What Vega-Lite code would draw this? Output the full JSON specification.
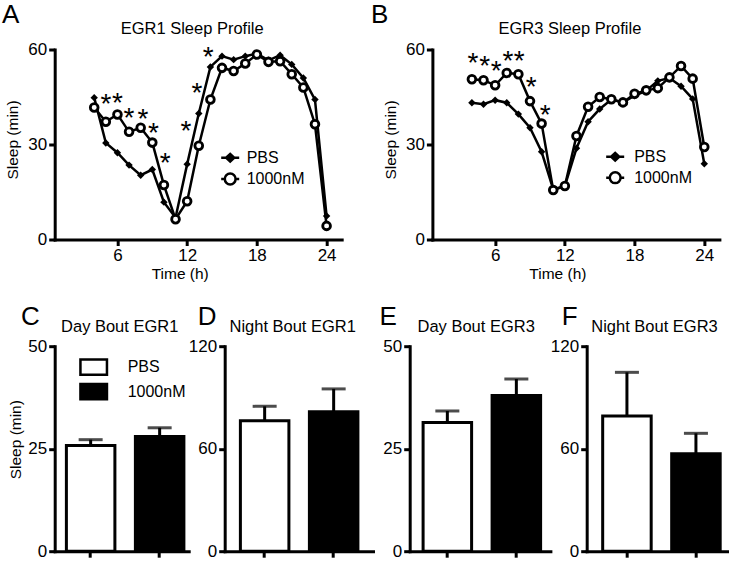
{
  "$schema": "https://vega.github.io/schema/vega-lite/v6.json",
  "background": "white",
  "padding": {"left": 1.7, "top": 1.5, "right": 0, "bottom": 0},
  "config": {
    "font": "Liberation Sans",
    "view": {"stroke": null},
    "axis": {"domainColor": "black", "domainWidth": 3, "domainCap": "square", "tickColor": "black", "tickWidth": 3, "tickSize": 6, "labelColor": "black", "labelFontSize": 17, "labelFont": "Liberation Sans", "titleColor": "black", "titleFontSize": 15.5, "titleFontWeight": "normal", "titleFont": "Liberation Sans", "grid": false},
    "title": {"fontSize": 26, "fontWeight": "normal", "color": "black", "anchor": "start", "frame": "bounds", "font": "Liberation Sans", "baseline": "alphabetic"},
    "legend": {"labelFontSize": 16, "labelColor": "black", "labelFont": "Liberation Sans"}
  },
  "datasets": {
    "profile": [
      {"panel":"A","series":"PBS","hour":4,"sleep":44.8},{"panel":"A","series":"PBS","hour":5,"sleep":30.5},{"panel":"A","series":"PBS","hour":6,"sleep":27.4},{"panel":"A","series":"PBS","hour":7,"sleep":23.5},{"panel":"A","series":"PBS","hour":8,"sleep":20.3},{"panel":"A","series":"PBS","hour":9,"sleep":22.1},{"panel":"A","series":"PBS","hour":10,"sleep":11.8},{"panel":"A","series":"PBS","hour":11,"sleep":6.9},{"panel":"A","series":"PBS","hour":12,"sleep":23.8},{"panel":"A","series":"PBS","hour":13,"sleep":39.8},{"panel":"A","series":"PBS","hour":14,"sleep":54.5},{"panel":"A","series":"PBS","hour":15,"sleep":57.9},{"panel":"A","series":"PBS","hour":16,"sleep":56.8},{"panel":"A","series":"PBS","hour":17,"sleep":57.9},{"panel":"A","series":"PBS","hour":18,"sleep":58.7},{"panel":"A","series":"PBS","hour":19,"sleep":56.6},{"panel":"A","series":"PBS","hour":20,"sleep":58.2},{"panel":"A","series":"PBS","hour":21,"sleep":55.3},{"panel":"A","series":"PBS","hour":22,"sleep":51.0},{"panel":"A","series":"PBS","hour":23,"sleep":44.2},{"panel":"A","series":"PBS","hour":24,"sleep":7.4},
      {"panel":"A","series":"1000nM","hour":4,"sleep":41.7},{"panel":"A","series":"1000nM","hour":5,"sleep":37.2},{"panel":"A","series":"1000nM","hour":6,"sleep":39.5},{"panel":"A","series":"1000nM","hour":7,"sleep":34.0},{"panel":"A","series":"1000nM","hour":8,"sleep":35.3},{"panel":"A","series":"1000nM","hour":9,"sleep":30.6},{"panel":"A","series":"1000nM","hour":10,"sleep":17.2},{"panel":"A","series":"1000nM","hour":11,"sleep":6.4},{"panel":"A","series":"1000nM","hour":12,"sleep":12.1},{"panel":"A","series":"1000nM","hour":13,"sleep":29.6},{"panel":"A","series":"1000nM","hour":14,"sleep":44.2},{"panel":"A","series":"1000nM","hour":15,"sleep":54.2},{"panel":"A","series":"1000nM","hour":16,"sleep":53.2},{"panel":"A","series":"1000nM","hour":17,"sleep":55.6},{"panel":"A","series":"1000nM","hour":18,"sleep":58.4},{"panel":"A","series":"1000nM","hour":19,"sleep":56.1},{"panel":"A","series":"1000nM","hour":20,"sleep":56.3},{"panel":"A","series":"1000nM","hour":21,"sleep":52.2},{"panel":"A","series":"1000nM","hour":22,"sleep":48.0},{"panel":"A","series":"1000nM","hour":23,"sleep":36.4},{"panel":"A","series":"1000nM","hour":24,"sleep":4.3},
      {"panel":"B","series":"PBS","hour":4,"sleep":43.2},{"panel":"B","series":"PBS","hour":5,"sleep":42.7},{"panel":"B","series":"PBS","hour":6,"sleep":44.0},{"panel":"B","series":"PBS","hour":7,"sleep":43.2},{"panel":"B","series":"PBS","hour":8,"sleep":39.6},{"panel":"B","series":"PBS","hour":9,"sleep":35.3},{"panel":"B","series":"PBS","hour":10,"sleep":27.7},{"panel":"B","series":"PBS","hour":11,"sleep":15.8},{"panel":"B","series":"PBS","hour":12,"sleep":16.9},{"panel":"B","series":"PBS","hour":13,"sleep":28.8},{"panel":"B","series":"PBS","hour":14,"sleep":37.2},{"panel":"B","series":"PBS","hour":15,"sleep":41.2},{"panel":"B","series":"PBS","hour":16,"sleep":44.2},{"panel":"B","series":"PBS","hour":17,"sleep":43.3},{"panel":"B","series":"PBS","hour":18,"sleep":45.4},{"panel":"B","series":"PBS","hour":19,"sleep":47.0},{"panel":"B","series":"PBS","hour":20,"sleep":50.1},{"panel":"B","series":"PBS","hour":21,"sleep":51.0},{"panel":"B","series":"PBS","hour":22,"sleep":48.4},{"panel":"B","series":"PBS","hour":23,"sleep":44.4},{"panel":"B","series":"PBS","hour":24,"sleep":23.9},
      {"panel":"B","series":"1000nM","hour":4,"sleep":50.6},{"panel":"B","series":"1000nM","hour":5,"sleep":50.3},{"panel":"B","series":"1000nM","hour":6,"sleep":48.7},{"panel":"B","series":"1000nM","hour":7,"sleep":52.6},{"panel":"B","series":"1000nM","hour":8,"sleep":52.2},{"panel":"B","series":"1000nM","hour":9,"sleep":43.7},{"panel":"B","series":"1000nM","hour":10,"sleep":36.6},{"panel":"B","series":"1000nM","hour":11,"sleep":15.6},{"panel":"B","series":"1000nM","hour":12,"sleep":16.9},{"panel":"B","series":"1000nM","hour":13,"sleep":32.7},{"panel":"B","series":"1000nM","hour":14,"sleep":41.9},{"panel":"B","series":"1000nM","hour":15,"sleep":45.0},{"panel":"B","series":"1000nM","hour":16,"sleep":44.3},{"panel":"B","series":"1000nM","hour":17,"sleep":43.3},{"panel":"B","series":"1000nM","hour":18,"sleep":46.0},{"panel":"B","series":"1000nM","hour":19,"sleep":47.1},{"panel":"B","series":"1000nM","hour":20,"sleep":47.8},{"panel":"B","series":"1000nM","hour":21,"sleep":51.2},{"panel":"B","series":"1000nM","hour":22,"sleep":54.8},{"panel":"B","series":"1000nM","hour":23,"sleep":50.8},{"panel":"B","series":"1000nM","hour":24,"sleep":29.2}
    ],
    "stars": [
      {"panel":"A","hour":5.0,"sleep":45.0,"mark":"*"},{"panel":"A","hour":6.0,"sleep":45.3,"mark":"*"},{"panel":"A","hour":7.0,"sleep":40.5,"mark":"*"},{"panel":"A","hour":8.2,"sleep":40.1,"mark":"*"},{"panel":"A","hour":9.1,"sleep":35.6,"mark":"*"},{"panel":"A","hour":10.1,"sleep":26.3,"mark":"*"},{"panel":"A","hour":11.9,"sleep":36.4,"mark":"*"},{"panel":"A","hour":12.85,"sleep":48.2,"mark":"*"},{"panel":"A","hour":13.8,"sleep":59.6,"mark":"*"},
      {"panel":"B","hour":4.1,"sleep":57.7,"mark":"*"},{"panel":"B","hour":5.1,"sleep":56.8,"mark":"*"},{"panel":"B","hour":6.1,"sleep":55.4,"mark":"*"},{"panel":"B","hour":7.1,"sleep":58.5,"mark":"*"},{"panel":"B","hour":8.06,"sleep":58.5,"mark":"*"},{"panel":"B","hour":9.1,"sleep":50.3,"mark":"*"},{"panel":"B","hour":10.3,"sleep":41.4,"mark":"*"}
    ],
    "bouts": [
      {"panel":"C","group":"PBS","mean":25.8,"upper":27.2},{"panel":"C","group":"1000nM","mean":28.0,"upper":30.1},
      {"panel":"D","group":"PBS","mean":76.3,"upper":84.8},{"panel":"D","group":"1000nM","mean":81.6,"upper":95.0},
      {"panel":"E","group":"PBS","mean":31.4,"upper":34.2},{"panel":"E","group":"1000nM","mean":38.0,"upper":42.0},
      {"panel":"F","group":"PBS","mean":79.1,"upper":104.7},{"panel":"F","group":"1000nM","mean":57.0,"upper":69.0}
    ]
  },
  "resolve": {"scale": {"fill": "independent", "shape": "independent", "stroke": "independent"}, "legend": {"fill": "independent", "shape": "independent", "stroke": "independent"}},
  "spacing": 21.7,
  "vconcat": [
    {
      "hconcat": [
        {
          "width": 287, "height": 190,
          "title": {"text": "A", "dx": -3.5, "offset": -7},
          "data": {"name": "profile"},
          "transform": [{"filter": "datum.panel === 'A'"}],
          "layer": [
            {"transform": [{"filter": "datum.series === 'PBS'"}],
             "mark": {"type": "line", "color": "black", "strokeWidth": 2.5},
             "encoding": {
               "x": {"field": "hour", "type": "quantitative", "scale": {"domain": [0.6, 25.3], "nice": false, "zero": false}, "axis": {"values": [6, 12, 18, 24], "title": "Time (h)", "labelPadding": 2, "titlePadding": 3, "titleX": 125}},
               "y": {"field": "sleep", "type": "quantitative", "scale": {"domain": [0, 60], "nice": false}, "axis": {"values": [0, 30, 60], "title": "Sleep (min)", "labelPadding": 2, "titlePadding": 7.4, "titleY": 90}}}},
            {"transform": [{"filter": "datum.series === 'PBS'"}],
             "mark": {"type": "point", "shape": "diamond", "filled": true, "color": "black", "size": 55, "opacity": 1},
             "encoding": {"x": {"field": "hour", "type": "quantitative", "axis": null}, "y": {"field": "sleep", "type": "quantitative"}}},
            {"transform": [{"filter": "datum.series === '1000nM'"}],
             "mark": {"type": "line", "color": "black", "strokeWidth": 2.5},
             "encoding": {"x": {"field": "hour", "type": "quantitative", "axis": null}, "y": {"field": "sleep", "type": "quantitative"}}},
            {"transform": [{"filter": "datum.series === '1000nM'"}],
             "mark": {"type": "point", "shape": "circle", "filled": true, "fill": "white", "stroke": "black", "strokeWidth": 2.8, "size": 60, "opacity": 1},
             "encoding": {"x": {"field": "hour", "type": "quantitative", "axis": null}, "y": {"field": "sleep", "type": "quantitative"}}},
            {"transform": [{"filter": "false"}],
             "mark": {"type": "point", "filled": true, "strokeWidth": 2.5, "opacity": 1},
             "encoding": {
               "x": {"field": "hour", "type": "quantitative", "axis": null},
               "y": {"field": "sleep", "type": "quantitative"},
               "shape": {"field": "series", "type": "nominal", "scale": {"domain": ["PBS", "1000nM"], "range": ["M-1,0H1M-0.45,0L0,-0.42L0.45,0L0,0.42Z", "M-1,0H-0.6M0.6,0H1M-0.6,0A0.6,0.6 0 1,1 0.6,0A0.6,0.6 0 1,1 -0.6,0Z"]},
                 "legend": {"title": null, "orient": "none", "legendX": 165, "legendY": 97.7, "padding": 0, "symbolSize": 324, "labelOffset": 6, "rowPadding": 1.3, "symbolStrokeWidth": 2.5, "symbolOpacity": 1}},
               "fill": {"field": "series", "type": "nominal", "scale": {"domain": ["PBS", "1000nM"], "range": ["black", "white"]},
                 "legend": {"title": null, "orient": "none", "legendX": 165, "legendY": 97.7, "padding": 0, "symbolSize": 324, "labelOffset": 6, "rowPadding": 1.3, "symbolStrokeWidth": 2.5, "symbolOpacity": 1}},
               "stroke": {"field": "series", "type": "nominal", "scale": {"domain": ["PBS", "1000nM"], "range": ["black", "black"]},
                 "legend": {"title": null, "orient": "none", "legendX": 165, "legendY": 97.7, "padding": 0, "symbolSize": 324, "labelOffset": 6, "rowPadding": 1.3, "symbolStrokeWidth": 2.5, "symbolOpacity": 1}}}},
            {"data": {"name": "stars"},
             "transform": [{"filter": "datum.panel === 'A'"}],
             "mark": {"type": "text", "fontSize": 28, "align": "center", "baseline": "middle", "dy": 7.5, "color": "black"},
             "encoding": {
               "x": {"field": "hour", "type": "quantitative", "axis": {"orient": "top", "title": "EGR1 Sleep Profile", "domain": false, "ticks": false, "labels": false, "titlePadding": 16, "titleBaseline": "alphabetic", "titleFontSize": 16.5, "titleX": 137}},
               "y": {"field": "sleep", "type": "quantitative"},
               "text": {"field": "mark"}}}
          ],
          "resolve": {"axis": {"x": "independent"}}
        },
        {
          "width": 287, "height": 190,
          "title": {"text": "B", "dx": -12, "offset": -7},
          "data": {"name": "profile"},
          "transform": [{"filter": "datum.panel === 'B'"}],
          "layer": [
            {"transform": [{"filter": "datum.series === 'PBS'"}],
             "mark": {"type": "line", "color": "black", "strokeWidth": 2.5},
             "encoding": {
               "x": {"field": "hour", "type": "quantitative", "scale": {"domain": [0.6, 25.3], "nice": false, "zero": false}, "axis": {"values": [6, 12, 18, 24], "title": "Time (h)", "labelPadding": 2, "titlePadding": 3, "titleX": 125}},
               "y": {"field": "sleep", "type": "quantitative", "scale": {"domain": [0, 60], "nice": false}, "axis": {"values": [0, 30, 60], "title": "Sleep (min)", "labelPadding": 2, "titlePadding": 7.4, "titleY": 90}}}},
            {"transform": [{"filter": "datum.series === 'PBS'"}],
             "mark": {"type": "point", "shape": "diamond", "filled": true, "color": "black", "size": 55, "opacity": 1},
             "encoding": {"x": {"field": "hour", "type": "quantitative", "axis": null}, "y": {"field": "sleep", "type": "quantitative"}}},
            {"transform": [{"filter": "datum.series === '1000nM'"}],
             "mark": {"type": "line", "color": "black", "strokeWidth": 2.5},
             "encoding": {"x": {"field": "hour", "type": "quantitative", "axis": null}, "y": {"field": "sleep", "type": "quantitative"}}},
            {"transform": [{"filter": "datum.series === '1000nM'"}],
             "mark": {"type": "point", "shape": "circle", "filled": true, "fill": "white", "stroke": "black", "strokeWidth": 2.8, "size": 60, "opacity": 1},
             "encoding": {"x": {"field": "hour", "type": "quantitative", "axis": null}, "y": {"field": "sleep", "type": "quantitative"}}},
            {"transform": [{"filter": "false"}],
             "mark": {"type": "point", "filled": true, "strokeWidth": 2.5, "opacity": 1},
             "encoding": {
               "x": {"field": "hour", "type": "quantitative", "axis": null},
               "y": {"field": "sleep", "type": "quantitative"},
               "shape": {"field": "series", "type": "nominal", "scale": {"domain": ["PBS", "1000nM"], "range": ["M-1,0H1M-0.45,0L0,-0.42L0.45,0L0,0.42Z", "M-1,0H-0.6M0.6,0H1M-0.6,0A0.6,0.6 0 1,1 0.6,0A0.6,0.6 0 1,1 -0.6,0Z"]},
                 "legend": {"title": null, "orient": "none", "legendX": 172.3, "legendY": 96.7, "padding": 0, "symbolSize": 324, "labelOffset": 8.5, "rowPadding": 1, "symbolStrokeWidth": 2.5, "symbolOpacity": 1}},
               "fill": {"field": "series", "type": "nominal", "scale": {"domain": ["PBS", "1000nM"], "range": ["black", "white"]},
                 "legend": {"title": null, "orient": "none", "legendX": 172.3, "legendY": 96.7, "padding": 0, "symbolSize": 324, "labelOffset": 8.5, "rowPadding": 1, "symbolStrokeWidth": 2.5, "symbolOpacity": 1}},
               "stroke": {"field": "series", "type": "nominal", "scale": {"domain": ["PBS", "1000nM"], "range": ["black", "black"]},
                 "legend": {"title": null, "orient": "none", "legendX": 172.3, "legendY": 96.7, "padding": 0, "symbolSize": 324, "labelOffset": 8.5, "rowPadding": 1, "symbolStrokeWidth": 2.5, "symbolOpacity": 1}}}},
            {"data": {"name": "stars"},
             "transform": [{"filter": "datum.panel === 'B'"}],
             "mark": {"type": "text", "fontSize": 28, "align": "center", "baseline": "middle", "dy": 7.5, "color": "black"},
             "encoding": {
               "x": {"field": "hour", "type": "quantitative", "axis": {"orient": "top", "title": "EGR3 Sleep Profile", "domain": false, "ticks": false, "labels": false, "titlePadding": 16, "titleBaseline": "alphabetic", "titleFontSize": 16.5, "titleX": 137}},
               "y": {"field": "sleep", "type": "quantitative"},
               "text": {"field": "mark"}}}
          ],
          "resolve": {"axis": {"x": "independent"}}
        }
      ],
      "spacing": 90.7,
      "bounds": "flush",
      "resolve": {"scale": {"fill": "independent", "shape": "independent", "stroke": "independent"}, "legend": {"fill": "independent", "shape": "independent", "stroke": "independent"}}
    },
    {
      "hconcat": [
        {
          "width": 134, "height": 205,
          "title": {"text": "C", "dx": 12.5, "offset": -12.3},
          "data": {"name": "bouts"},
          "transform": [{"filter": "datum.panel === 'C'"}],
          "layer": [
            {"mark": {"type": "bar", "stroke": "black", "strokeWidth": 3},
             "encoding": {
               "x": {"field": "group", "type": "nominal", "sort": ["PBS", "1000nM"], "scale": {"domain": ["PBS", "1000nM"], "paddingInner": 0.297, "paddingOuter": 0.1195, "align": 0.709}, "axis": {"labels": false, "title": null, "bandPosition": 0.5}},
               "y": {"field": "mean", "type": "quantitative", "scale": {"domain": [0, 50], "nice": false}, "axis": {"values": [0, 25, 50], "title": "Sleep (min)", "labelPadding": 2, "titlePadding": 4.4, "titleY": 93}},
               "fill": {"field": "group", "type": "nominal", "scale": {"domain": ["PBS", "1000nM"], "range": ["white", "black"]},
                 "legend": {"title": null, "orient": "none", "legendX": 29, "legendY": 11, "padding": 0, "symbolType": "M-1.56,-0.894H1.56V0.894H-1.56Z", "symbolSize": 289, "labelOffset": 24, "rowPadding": -1.5, "symbolStrokeColor": "black", "symbolStrokeWidth": 2.5, "symbolOpacity": 1}}}},
            {"mark": {"type": "rule", "color": "black", "strokeWidth": 3},
             "encoding": {"x": {"field": "group", "type": "nominal", "axis": null}, "y": {"field": "mean", "type": "quantitative"}, "y2": {"field": "upper"}}},
            {"mark": {"type": "tick", "color": "black", "thickness": 3, "size": 24},
             "encoding": {"x": {"field": "group", "type": "nominal", "axis": {"orient": "top", "title": "Day Bout EGR1", "domain": false, "ticks": false, "labels": false, "titlePadding": 15, "titleBaseline": "alphabetic", "titleFontSize": 16.5, "titleX": 64.5}}, "y": {"field": "upper", "type": "quantitative"}}}
          ],
          "resolve": {"axis": {"x": "independent"}}
        },
        {
          "width": 148.3, "height": 205,
          "title": {"text": "D", "dx": 9.4, "offset": -12.3},
          "data": {"name": "bouts"},
          "transform": [{"filter": "datum.panel === 'D'"}],
          "layer": [
            {"mark": {"type": "bar", "stroke": "black", "strokeWidth": 3},
             "encoding": {
               "x": {"field": "group", "type": "nominal", "sort": ["PBS", "1000nM"], "scale": {"domain": ["PBS", "1000nM"], "paddingInner": 0.297, "paddingOuter": 0.223, "align": 0.51}, "axis": {"labels": false, "title": null, "bandPosition": 0.5}},
               "y": {"field": "mean", "type": "quantitative", "scale": {"domain": [0, 120], "nice": false}, "axis": {"values": [0, 60, 120], "title": null, "labelPadding": 2}},
               "fill": {"field": "group", "type": "nominal", "scale": {"domain": ["PBS", "1000nM"], "range": ["white", "black"]}, "legend": null}}},
            {"mark": {"type": "rule", "color": "black", "strokeWidth": 3},
             "encoding": {"x": {"field": "group", "type": "nominal", "axis": null}, "y": {"field": "mean", "type": "quantitative"}, "y2": {"field": "upper"}}},
            {"mark": {"type": "tick", "color": "black", "thickness": 3, "size": 24},
             "encoding": {"x": {"field": "group", "type": "nominal", "axis": {"orient": "top", "title": "Night Bout EGR1", "domain": false, "ticks": false, "labels": false, "titlePadding": 15, "titleBaseline": "alphabetic", "titleFontSize": 16.5, "titleX": 67.5}}, "y": {"field": "upper", "type": "quantitative"}}}
          ],
          "resolve": {"axis": {"x": "independent"}}
        },
        {
          "width": 140.7, "height": 205,
          "title": {"text": "E", "dx": -3.4, "offset": -12.3},
          "data": {"name": "bouts"},
          "transform": [{"filter": "datum.panel === 'E'"}],
          "layer": [
            {"mark": {"type": "bar", "stroke": "black", "strokeWidth": 3},
             "encoding": {
               "x": {"field": "group", "type": "nominal", "sort": ["PBS", "1000nM"], "scale": {"domain": ["PBS", "1000nM"], "paddingInner": 0.297, "paddingOuter": 0.168, "align": 0.578}, "axis": {"labels": false, "title": null, "bandPosition": 0.5}},
               "y": {"field": "mean", "type": "quantitative", "scale": {"domain": [0, 50], "nice": false}, "axis": {"values": [0, 25, 50], "title": null, "labelPadding": 2}},
               "fill": {"field": "group", "type": "nominal", "scale": {"domain": ["PBS", "1000nM"], "range": ["white", "black"]}, "legend": null}}},
            {"mark": {"type": "rule", "color": "black", "strokeWidth": 3},
             "encoding": {"x": {"field": "group", "type": "nominal", "axis": null}, "y": {"field": "mean", "type": "quantitative"}, "y2": {"field": "upper"}}},
            {"mark": {"type": "tick", "color": "black", "thickness": 3, "size": 24},
             "encoding": {"x": {"field": "group", "type": "nominal", "axis": {"orient": "top", "title": "Day Bout EGR3", "domain": false, "ticks": false, "labels": false, "titlePadding": 15, "titleBaseline": "alphabetic", "titleFontSize": 16.5, "titleX": 66}}, "y": {"field": "upper", "type": "quantitative"}}}
          ],
          "resolve": {"axis": {"x": "independent"}}
        },
        {
          "width": 141.7, "height": 205,
          "title": {"text": "F", "dx": 11.4, "offset": -12.3},
          "data": {"name": "bouts"},
          "transform": [{"filter": "datum.panel === 'F'"}],
          "layer": [
            {"mark": {"type": "bar", "stroke": "black", "strokeWidth": 3},
             "encoding": {
               "x": {"field": "group", "type": "nominal", "sort": ["PBS", "1000nM"], "scale": {"domain": ["PBS", "1000nM"], "paddingInner": 0.297, "paddingOuter": 0.1753, "align": 0.661}, "axis": {"labels": false, "title": null, "bandPosition": 0.5}},
               "y": {"field": "mean", "type": "quantitative", "scale": {"domain": [0, 120], "nice": false}, "axis": {"values": [0, 60, 120], "title": null, "labelPadding": 2}},
               "fill": {"field": "group", "type": "nominal", "scale": {"domain": ["PBS", "1000nM"], "range": ["white", "black"]}, "legend": null}}},
            {"mark": {"type": "rule", "color": "black", "strokeWidth": 3},
             "encoding": {"x": {"field": "group", "type": "nominal", "axis": null}, "y": {"field": "mean", "type": "quantitative"}, "y2": {"field": "upper"}}},
            {"mark": {"type": "tick", "color": "black", "thickness": 3, "size": 24},
             "encoding": {"x": {"field": "group", "type": "nominal", "axis": {"orient": "top", "title": "Night Bout EGR3", "domain": false, "ticks": false, "labels": false, "titlePadding": 15, "titleBaseline": "alphabetic", "titleFontSize": 16.5, "titleX": 67.3}}, "y": {"field": "upper", "type": "quantitative"}}}
          ],
          "resolve": {"axis": {"x": "independent"}}
        }
      ],
      "spacing": 36,
      "bounds": "flush",
      "resolve": {"scale": {"fill": "independent", "shape": "independent", "stroke": "independent"}, "legend": {"fill": "independent", "shape": "independent", "stroke": "independent"}}
    }
  ]
}
